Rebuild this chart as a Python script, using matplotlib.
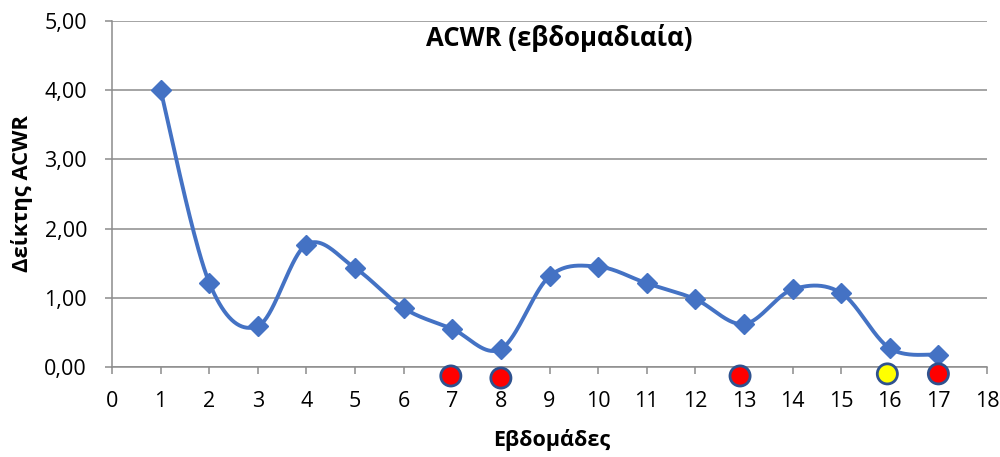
import numpy as np
import matplotlib
matplotlib.use("Agg")
import matplotlib.pyplot as plt
from matplotlib.ticker import FuncFormatter, MultipleLocator

plt.rcParams['font.family'] = ['Open Sans', 'DejaVu Sans']

weeks = [1, 2, 3, 4, 5, 6, 7, 8, 9, 10, 11, 12, 13, 14, 15, 16, 17]
acwr = [4.00, 1.22, 0.59, 1.77, 1.43, 0.85, 0.55, 0.26, 1.31, 1.45,
        1.21, 0.98, 0.62, 1.12, 1.07, 0.27, 0.18]

# Flag markers drawn beneath the axis line
flag_weeks = [6.97, 8.0, 12.92, 15.95, 17.0]
flag_level = [-0.13, -0.16, -0.13, -0.10, -0.10]
flag_colors = ['#FF0000', '#FF0000', '#FF0000', '#FFFF00', '#FF0000']

title = "ACWR (εβδομαδιαία)"
xlabel = "Εβδομάδες"
ylabel = "Δείκτης ACWR"


def smooth_curve(x, y, n=40):
    """Catmull-Rom style Bezier smoothing through every point."""
    x = np.asarray(x, float)
    y = np.asarray(y, float)
    pts = np.column_stack([x, y])
    out = []
    for i in range(len(pts) - 1):
        p0 = pts[i - 1] if i > 0 else pts[i]
        p1 = pts[i]
        p2 = pts[i + 1]
        p3 = pts[i + 2] if i + 2 < len(pts) else pts[i + 1]
        c1 = p1 + (p2 - p0) / 6.0
        c2 = p2 - (p3 - p1) / 6.0
        t = np.linspace(0, 1, n)[:, None]
        seg = ((1 - t) ** 3) * p1 + 3 * ((1 - t) ** 2) * t * c1 \
            + 3 * (1 - t) * t ** 2 * c2 + t ** 3 * p2
        out.append(seg if i == 0 else seg[1:])
    curve = np.vstack(out)
    return curve[:, 0], curve[:, 1]


fig = plt.figure(figsize=(10, 4.57), dpi=100)
ax = fig.add_axes([0.112, 0.197, 0.875, 0.757])

blue = '#4472C4'
grid_c = '#8C8C8C'

sx, sy = smooth_curve(weeks, acwr)
ax.plot(sx, sy, color=blue, lw=2.8, solid_capstyle='round', zorder=3)
ax.plot(weeks, acwr, linestyle='none', marker='D', markersize=10,
        color=blue, zorder=4)

ax.scatter(flag_weeks, flag_level, s=210, c=flag_colors,
           edgecolors='#2F528F', linewidths=2, zorder=5, clip_on=False)

ax.set_xlim(0, 18)
ax.set_ylim(0, 5)
ax.xaxis.set_major_locator(MultipleLocator(1))
ax.yaxis.set_major_locator(MultipleLocator(1))
ax.yaxis.set_major_formatter(FuncFormatter(lambda v, p: f"{v:.2f}".replace('.', ',')))

ax.grid(axis='y', color=grid_c, lw=1.1, zorder=0)
ax.set_axisbelow(True)
for s in ['top', 'right']:
    ax.spines[s].set_visible(False)
for s in ['left', 'bottom']:
    ax.spines[s].set_color(grid_c)
    ax.spines[s].set_linewidth(1.1)

ax.tick_params(axis='both', colors=grid_c, length=5, width=1.1,
               labelcolor='black', labelsize=15.5)
ax.tick_params(axis='x', pad=12)
ax.tick_params(axis='y', pad=13)

ax.set_xlabel(xlabel, fontsize=15.5, fontweight='bold', va='center')
ax.set_ylabel(ylabel, fontsize=15.8, fontweight='bold', va='center')
ax.xaxis.set_label_coords(0.502, -0.211)
ax.yaxis.set_label_coords(-0.103, 0.5)
ax.text(0.511, 0.951, title, transform=ax.transAxes, ha='center', va='center',
        fontsize=18.5, fontweight='bold')

fig.savefig('out.png', dpi=100)
